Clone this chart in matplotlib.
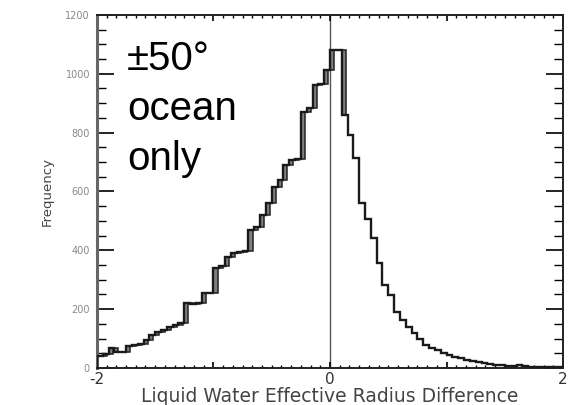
import numpy as np
import matplotlib
matplotlib.use("Agg")
import matplotlib.pyplot as plt
from matplotlib.ticker import MultipleLocator

plt.rcParams['font.family'] = ['DejaVu Sans']

# histogram of effective radius difference, 80 bins of 0.05 from -2 to 2
bin_edges = np.linspace(-2, 2, 81)
counts = [42, 48, 68, 56, 55, 76, 78, 80, 95, 112,
          123, 128, 140, 145, 152, 220, 218, 220, 254, 256,
          339, 345, 378, 390, 395, 398, 469, 480, 520, 560,
          616, 640, 690, 707, 710, 871, 882, 962, 965, 1013,
          1081, 1081, 860, 790, 713, 560, 505, 441, 356, 282,
          248, 191, 163, 140, 118, 97, 78, 67, 60, 50,
          44, 38, 33, 28, 24, 21, 17, 14, 11, 10,
          8, 7, 9, 6, 5, 4, 5, 4, 3, 4]
counts = np.array(counts)

x_ticks = [-2, -1, 0, 1, 2]
x_labels = ["-2", "", "0", "", "2"]
y_ticks = [0, 200, 400, 600, 800, 1000, 1200]

fig = plt.figure(figsize=(5.7, 4.05), dpi=100)
ax = fig.add_axes([0.170, 0.0914, 0.818, 0.872])

# doubled edges on the rising side look like thin grey boxes
dx = 0.035
for i in range(1, 43):
    lo = min(counts[i - 1], counts[i])
    hi = max(counts[i - 1], counts[i])
    ax.bar(bin_edges[i], hi - lo, bottom=lo, width=dx, align='edge',
           color='#808080', edgecolor='#222222', linewidth=1.1, zorder=2)

ax.stairs(counts, bin_edges, color='#1a1a1a', linewidth=1.7, zorder=3)

ax.axvline(0, color='#555555', linewidth=1.0, zorder=1)

ax.set_xlim(-2, 2)
ax.set_ylim(0, 1200)

ax.set_xticks(x_ticks)
ax.set_xticklabels(x_labels)
ax.xaxis.set_minor_locator(MultipleLocator(1 / 12))
ax.set_yticks(y_ticks)
ax.yaxis.set_minor_locator(MultipleLocator(50))

ax.tick_params(axis='x', which='major', direction='in', top=True, length=4,
               width=1.2, labelsize=11, labelcolor='#333333', pad=3)
ax.tick_params(axis='x', which='minor', direction='in', top=True, length=2.2,
               width=1.0)
ax.tick_params(axis='y', which='major', direction='in', right=True, length=12,
               width=1.2, labelsize=7, labelcolor='#888888', pad=5)
ax.tick_params(axis='y', which='minor', direction='in', right=True, length=6.5,
               width=1.0)

for s in ['top', 'bottom', 'right']:
    ax.spines[s].set_linewidth(1.4)
    ax.spines[s].set_color('#222222')
ax.spines['left'].set_linewidth(2.2)
ax.spines['left'].set_color('#666666')

ax.set_xlabel("Liquid Water Effective Radius Difference", fontsize=13.5,
              color='#444444', labelpad=0)
ax.set_ylabel("Frequency", fontsize=9.5, color='#444444', labelpad=8)

ax.text(0.065, 0.93, "\u00b150\u00b0\nocean\nonly", transform=ax.transAxes,
        fontsize=29, va='top', ha='left', linespacing=1.4, color='black',
        family=['Liberation Sans', 'DejaVu Sans'])

fig.savefig("out.png", dpi=100)
